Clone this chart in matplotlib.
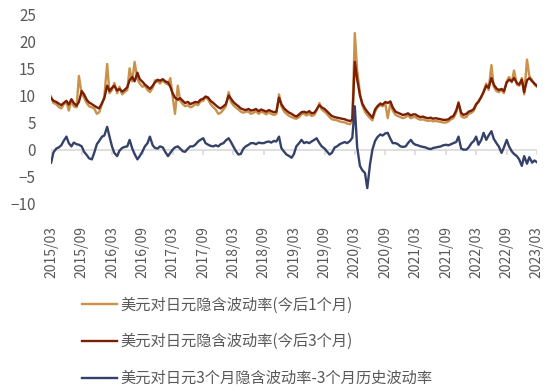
import pandas as pd
import matplotlib
matplotlib.use('Agg')
import matplotlib.pyplot as plt
import matplotlib.dates as mdates

plt.rcParams['font.family'] = ['Noto Sans CJK SC', 'DejaVu Sans']

# half-month readings, 2015/03 .. 2023/03
dates = pd.date_range('2015-03-01', periods=193, freq='SMS')

vol_1m = [
    9.8, 8.6, 8.4, 7.9, 7.6, 8.3, 8.8, 7.2, 9.0, 8.0, 7.8, 13.6,
    10.2, 9.6, 8.6, 8.0, 7.8, 7.6, 6.6, 6.9, 8.4, 9.8, 15.8, 10.4,
    11.0, 12.3, 10.4, 11.6, 10.2, 10.6, 11.0, 15.0, 12.6, 16.2, 13.0, 12.2,
    11.6, 11.8, 11.0, 10.6, 11.4, 12.8, 12.6, 12.2, 12.8, 12.3, 12.0, 13.2,
    9.8, 6.6, 11.8, 9.0, 8.4, 8.0, 8.2, 7.8, 8.0, 8.4, 8.2, 8.9,
    9.0, 9.7, 9.2, 8.4, 7.8, 7.4, 6.6, 6.8, 7.4, 8.0, 10.6, 8.8,
    8.2, 7.8, 7.4, 7.0, 6.8, 7.0, 7.0, 6.6, 6.8, 7.1, 6.6, 7.0,
    6.8, 6.5, 6.9, 6.6, 6.4, 6.6, 10.2, 8.0, 7.0, 6.6, 6.2, 6.0,
    5.8, 5.7, 6.0, 6.6, 6.6, 6.3, 6.6, 6.2, 6.4, 7.2, 8.6, 7.4,
    7.0, 6.6, 6.0, 5.6, 5.5, 5.4, 5.2, 5.1, 5.0, 4.8, 4.7, 5.2,
    21.5, 14.7, 10.4, 8.2, 7.0, 6.4, 5.8, 5.4, 7.0, 7.8, 8.2, 8.0,
    8.4, 5.8, 8.6, 7.2, 6.4, 6.2, 6.0, 5.8, 6.0, 6.3, 5.8, 6.0,
    6.0, 5.7, 5.5, 5.6, 5.4, 5.3, 5.4, 5.2, 5.3, 5.2, 5.1, 5.0,
    5.0, 5.2, 5.6, 5.8, 6.8, 8.8, 6.2, 5.9, 6.0, 6.6, 6.8, 7.2,
    8.2, 9.0, 9.6, 10.8, 12.2, 11.0, 15.6, 11.6, 10.8, 10.6, 11.0, 10.4,
    12.6, 13.4, 12.4, 14.6, 12.0, 11.8, 13.2, 10.2, 16.6, 13.6, 12.8, 12.0,
    11.6,
]

vol_3m = [
    9.5, 9.0, 8.8, 8.5, 8.2, 8.6, 9.0, 8.3, 9.3, 8.6, 8.1, 8.8,
    10.8, 10.2, 9.2, 8.7, 8.4, 8.1, 7.8, 7.6, 8.6, 9.5, 11.8, 10.8,
    11.4, 11.8, 10.9, 11.2, 10.7, 11.0, 11.5, 12.8, 13.4, 12.6, 14.2, 13.0,
    12.5, 12.0, 11.6, 11.2, 11.8, 12.4, 12.9, 12.7, 13.0, 12.6, 12.4, 11.6,
    10.4, 9.6, 9.2, 9.5, 9.0, 8.6, 8.8, 8.4, 8.6, 8.8, 8.7, 9.2,
    9.4, 9.8, 9.6, 9.0, 8.6, 8.2, 7.8, 7.6, 8.0, 8.4, 10.0, 9.4,
    8.8, 8.4, 8.0, 7.6, 7.4, 7.3, 7.5, 7.2, 7.3, 7.5, 7.1, 7.4,
    7.2, 7.0, 7.3, 7.1, 6.9, 7.0, 9.6, 8.4, 7.6, 7.2, 6.8, 6.6,
    6.3, 6.1, 6.5, 6.9, 7.0, 6.8, 7.1, 6.7, 6.8, 7.4, 8.2, 7.8,
    7.5, 7.1, 6.6, 6.2, 6.0, 5.9, 5.8, 5.7, 5.6, 5.4, 5.3, 5.5,
    16.2, 13.0, 10.0, 8.5, 7.6, 7.0, 6.4, 5.9, 7.4, 8.0, 8.5, 8.3,
    8.8, 8.6, 8.9, 7.8, 7.0, 6.8, 6.6, 6.4, 6.5, 6.7, 6.3, 6.5,
    6.5, 6.2, 6.0, 6.1, 5.9, 5.8, 5.9, 5.7, 5.8, 5.7, 5.6, 5.5,
    5.5, 5.6, 6.0, 6.2, 7.2, 8.6, 6.8, 6.4, 6.6, 7.0, 7.2, 7.5,
    8.4, 8.8, 9.8, 10.6, 11.8, 11.4, 13.2, 12.0, 11.3, 11.0, 11.2, 10.8,
    12.4, 12.9, 12.6, 13.2, 12.3, 12.0, 12.9, 10.6, 12.8, 13.2, 12.6, 12.2,
    11.8,
]

vol_gap = [
    -2.4, -0.5, 0.2, 0.4, 0.8, 1.6, 2.4, 1.2, 0.6, 1.3, 1.0, 0.9,
    0.6, -0.4, -1.0, -1.6, -1.8, -0.6, 1.0, 1.6, 2.4, 2.6, 4.2, 2.4,
    0.6, -0.6, -1.2, -0.2, 0.3, 0.5, 0.6, 1.8, 0.2, -0.8, -1.8, -1.2,
    -0.3, 0.6, 1.2, 2.4, 0.8, 0.3, 0.2, 0.6, 0.4, -0.4, -1.2, -0.6,
    0.0, 0.4, 0.6, 0.2, -0.3, -0.4, 0.2, 0.6, 0.6, 0.9, 1.5, 1.8,
    2.1, 1.2, 0.9, 0.7, 0.6, 0.8, 0.6, 1.0, 1.2, 1.7, 2.1, 1.4,
    0.6, -0.2, -0.9, -0.8, 0.2, 0.6, 0.9, 1.2, 1.2, 1.0, 1.3, 1.2,
    1.2, 1.4, 1.5, 1.3, 1.6, 1.5, 2.4, 0.3, -0.4, -0.9, -1.2, -1.5,
    -0.8, 0.6, 1.2, 1.8, 1.2, 1.4, 1.2, 1.5, 1.8, 2.1, 1.2, 0.6,
    0.2, -0.3, -0.9, -0.6, 0.4, 0.6, 1.0, 1.2, 1.4, 1.2, 1.6, 2.2,
    8.0, 0.5, -3.0, -3.8, -4.3, -7.1, -2.6, 0.0, 1.6, 2.3, 2.8, 2.6,
    3.0, 3.1, 2.0, 1.2, 1.2, 1.0, 0.6, 0.5, 0.6, 1.2, 1.8, 1.2,
    0.9, 0.8, 0.6, 0.5, 0.4, 0.2, 0.1, 0.3, 0.4, 0.5, 0.6, 0.8,
    0.9, 0.8, 1.0, 1.2, 1.4, 2.4, 0.2, 0.0, 0.0, 0.4, 1.2, 1.6,
    2.4, 0.9, 1.8, 3.1, 1.8, 2.6, 3.4, 2.0, 1.2, 0.6, -0.6, 0.4,
    1.8, 0.6, -0.3, -0.8, -1.2, -1.8, -3.0, -1.2, -2.6, -1.4, -2.4, -2.0,
    -2.3,
]

labels = [
    '美元对日元隐含波动率(今后1个月)',
    '美元对日元隐含波动率(今后3个月)',
    '美元对日元3个月隐含波动率-3个月历史波动率',
]
colors = ['#C9914A', '#7A1E05', '#36416A']

grey = '#595959'

fig = plt.figure(figsize=(5.5, 3.92), dpi=100)
ax = fig.add_axes([0.093, 0.48, 0.883, 0.484])

ax.axhline(0, color='#D9D9D9', lw=1.2, zorder=1)
tick_dates = pd.date_range('2015-03-01', '2023-03-01', freq='6MS')
ax.vlines(tick_dates, -0.9, 0, color='#D9D9D9', lw=1.2, zorder=1)

for series, lab, col in zip([vol_1m, vol_3m, vol_gap], labels, colors):
    ax.plot(dates, series, color=col, lw=1.7, label=lab, zorder=2)

ax.set_ylim(-10, 25)
ax.set_yticks(range(-10, 26, 5))
ax.set_xlim(pd.Timestamp('2015-03-01'), pd.Timestamp('2023-03-01'))
ax.set_xticks(tick_dates)
ax.xaxis.set_major_formatter(mdates.DateFormatter('%Y/%m'))

for s in ax.spines.values():
    s.set_visible(False)
ax.tick_params(axis='y', length=0, pad=11, labelsize=11, labelcolor=grey)
ax.tick_params(axis='x', length=0, pad=16, labelsize=10, labelcolor=grey,
               labelrotation=90)

handles, labs = ax.get_legend_handles_labels()
leg = fig.legend(handles, labs, loc='upper left', bbox_to_anchor=(0.149, 0.243),
                 frameon=False, fontsize=11, labelspacing=1.28,
                 handlelength=2.3, handletextpad=0.2, borderpad=0,
                 borderaxespad=0)
for t in leg.get_texts():
    t.set_color(grey)

fig.savefig('out.png', dpi=100)
